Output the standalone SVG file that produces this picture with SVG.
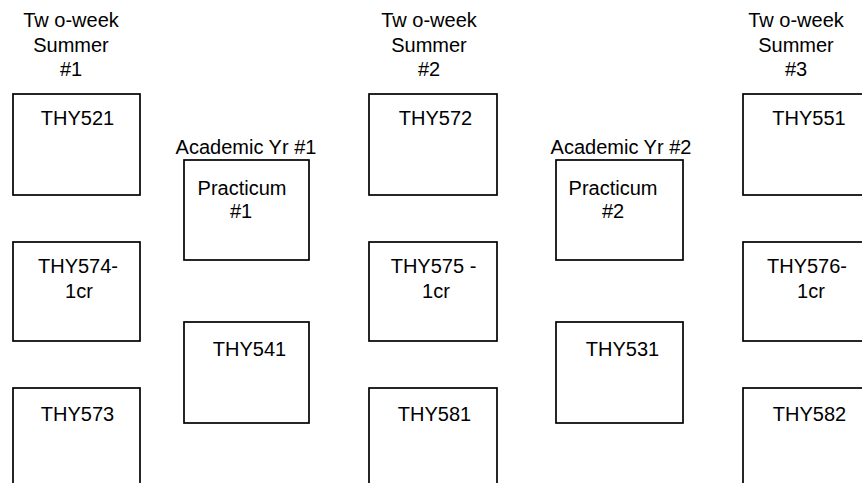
<svg xmlns="http://www.w3.org/2000/svg" width="862" height="483" viewBox="0 0 862 483">
<style>
.box{fill:#fff;stroke:#000;stroke-width:1.7}
text{font-family:"Liberation Sans",Arial,sans-serif;font-size:20px;fill:#000;text-anchor:middle}
</style>
<rect width="862" height="483" fill="#fff"/>
<g id="headers">
<text x="71" y="27">Tw o-week</text>
<text x="71" y="51.5">Summer</text>
<text x="71" y="76">#1</text>
<text x="429" y="27">Tw o-week</text>
<text x="429" y="51.5">Summer</text>
<text x="429" y="76">#2</text>
<text x="796" y="27">Tw o-week</text>
<text x="796" y="51.5">Summer</text>
<text x="796" y="76">#3</text>
<text x="246" y="154">Academic Yr #1</text>
<text x="621" y="154">Academic Yr #2</text>
</g>
<g id="n-thy521"><rect class="box" x="13" y="94" width="127" height="101"/><text x="77.5" y="125">THY521</text></g>
<g id="n-thy574"><rect class="box" x="13" y="242" width="127" height="99"/><text x="78" y="273">THY574-</text><text x="79" y="298">1cr</text></g>
<g id="n-thy573"><rect class="box" x="13" y="388" width="127" height="110"/><text x="77.5" y="421">THY573</text></g>
<g id="n-prac1"><rect class="box" x="184" y="160" width="125" height="100"/><text x="242" y="195">Practicum</text><text x="241" y="218">#1</text></g>
<g id="n-thy541"><rect class="box" x="184" y="322" width="125" height="101"/><text x="249.5" y="356">THY541</text></g>
<g id="n-thy572"><rect class="box" x="369" y="94" width="128" height="101"/><text x="435.5" y="125">THY572</text></g>
<g id="n-thy575"><rect class="box" x="369" y="242" width="128" height="99"/><text x="433.5" y="273">THY575 -</text><text x="436" y="298">1cr</text></g>
<g id="n-thy581"><rect class="box" x="369" y="388" width="128" height="110"/><text x="434.5" y="421">THY581</text></g>
<g id="n-prac2"><rect class="box" x="556" y="160" width="127" height="100"/><text x="613" y="195">Practicum</text><text x="613" y="218">#2</text></g>
<g id="n-thy531"><rect class="box" x="556" y="322" width="127" height="101"/><text x="622.5" y="356">THY531</text></g>
<g id="n-thy551"><rect class="box" x="743" y="94" width="130" height="101"/><text x="809" y="125">THY551</text></g>
<g id="n-thy576"><rect class="box" x="743" y="242" width="130" height="99"/><text x="807" y="273">THY576-</text><text x="811" y="298">1cr</text></g>
<g id="n-thy582"><rect class="box" x="743" y="388" width="130" height="110"/><text x="809.5" y="421">THY582</text></g>
<g id="connectors"></g>
</svg>
